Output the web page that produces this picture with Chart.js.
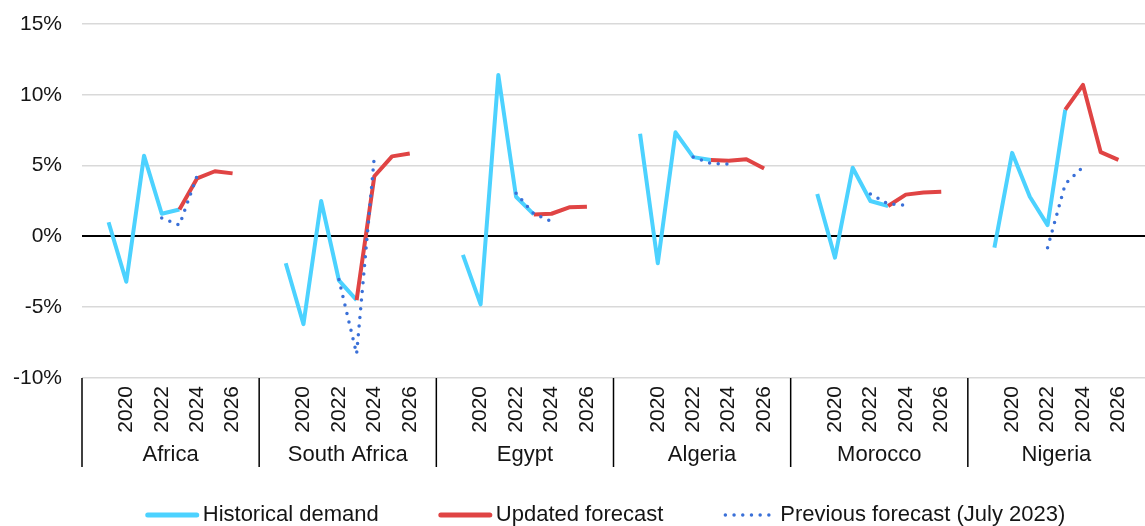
<!DOCTYPE html>
<html>
<head>
<meta charset="utf-8">
<script src="https://cdn.jsdelivr.net/npm/chart.js@4.4.1/dist/chart.umd.min.js"></script>
<style>
  html, body { margin: 0; padding: 0; background: #fff; }
  #wrap { width: 1145px; height: 526px; position: relative; }
</style>
</head>
<body>
<div id="wrap"><canvas id="demandChart"></canvas></div>
<script>
const regions = ['Africa', 'South Africa', 'Egypt', 'Algeria', 'Morocco', 'Nigeria'];
const years = ['2019', '2020', '2021', '2022', '2023', '2024', '2025', '2026'];
const yTicks = [-10, -5, 0, 5, 10, 15];

// demand growth in %, one row per region (same order as regions), columns 2019..2026
const historicalDemand = [
    [1.0, -3.2, 5.7, 1.6, 1.9, null, null, null],
    [-1.9, -6.2, 2.5, -3.1, -4.5, null, null, null],
    [-1.3, -4.8, 11.4, 2.8, 1.55, null, null, null],
    [7.25, -1.9, 7.35, 5.6, 5.4, null, null, null],
    [3.0, -1.5, 4.85, 2.5, 2.15, null, null, null],
    [-0.8, 5.9, 2.8, 0.8, 8.95, null, null, null]
];
const updatedForecast = [
    [null, null, null, null, 1.9, 4.1, 4.6, 4.45],
    [null, null, null, null, -4.5, 4.25, 5.65, 5.85],
    [null, null, null, null, 1.55, 1.6, 2.05, 2.1],
    [null, null, null, null, 5.4, 5.35, 5.45, 4.8],
    [null, null, null, null, 2.15, 2.95, 3.1, 3.15],
    [null, null, null, null, 8.95, 10.7, 5.95, 5.4]
];
const previousForecast = [
    [null, null, null, 1.3, 0.8, 4.3, null, null],
    [null, null, null, -3.05, -8.3, 5.65, null, null],
    [null, null, null, 3.05, 1.6, 1.05, null, null],
    [null, null, null, 5.6, 5.15, 5.1, null, null],
    [null, null, null, 3.0, 2.3, 2.2, null, null],
    [null, null, null, -0.8, 3.7, 4.9, null, null]
];

const FONT = '"Liberation Sans", Arial, sans-serif';
const TEXT = '#151515';
const perRegion = years.length + 2;  // empty slot either side of each region

const labels = regions.flatMap(() => ['', ...years, '']);
const spread = rows => rows.flatMap(row => [null, ...row, null]);

// region separators, region names and the legend underneath the axis
const regionAxisPlugin = {
    id: 'regionAxis',
    afterDraw(chart) {
        const { ctx, chartArea } = chart;
        const x = chart.scales.x;
        const slot = x.getPixelForValue(1) - x.getPixelForValue(0);
        ctx.save();
        ctx.strokeStyle = '#000';
        ctx.lineWidth = 1.5;
        ctx.font = '22px ' + FONT;
        ctx.fillStyle = TEXT;
        ctx.textAlign = 'center';
        ctx.textBaseline = 'middle';
        regions.forEach((name, g) => {
            const left = x.getPixelForValue(g * perRegion) - slot / 2;
            const right = x.getPixelForValue(g * perRegion + perRegion - 1) + slot / 2;
            ctx.beginPath();
            ctx.moveTo(left, chartArea.bottom);
            ctx.lineTo(left, chartArea.bottom + 89);
            ctx.stroke();
            ctx.fillText(name, (left + right) / 2, chartArea.bottom + 77);
        });

        // legend
        const sw = 53, gap = 4, between = 60, ly = 515;
        const items = chart.data.datasets.map(ds => ({ ds, w: ctx.measureText(ds.label).width }));
        const total = items.reduce((s, it) => s + sw + gap + it.w, 0) + between * (items.length - 1);
        let lx = (chartArea.left + chartArea.right) / 2 - 8 - total / 2;
        ctx.textAlign = 'left';
        items.forEach(({ ds, w }) => {
            ctx.save();
            ctx.strokeStyle = ds.borderColor;
            ctx.lineWidth = ds.borderDash ? ds.borderWidth : 5;
            ctx.lineCap = 'round';
            ctx.setLineDash(ds.borderDash || []);
            ctx.beginPath();
            ctx.moveTo(lx + 2, ly);
            ctx.lineTo(lx + sw - 2, ly);
            ctx.stroke();
            ctx.restore();
            ctx.fillText(ds.label, lx + sw + gap, ly);
            lx += sw + gap + w + between;
        });
        ctx.restore();
    }
};

const ctx = document.getElementById('demandChart').getContext('2d');
new Chart(ctx, {
    type: 'line',
    data: {
        labels: labels,
        datasets: [{
            label: 'Historical demand',
            data: spread(historicalDemand),
            borderColor: '#4CD2FF',
            borderWidth: 4,
            order: 2
        }, {
            label: 'Updated forecast',
            data: spread(updatedForecast),
            borderColor: '#E04444',
            borderWidth: 4,
            order: 1
        }, {
            label: 'Previous forecast (July 2023)',
            data: spread(previousForecast),
            borderColor: '#3A70D8',
            borderWidth: 3.5,
            borderDash: [0, 8.7],
            borderCapStyle: 'round',
            order: 0
        }]
    },
    options: {
        responsive: true,
        maintainAspectRatio: false,
        animation: false,
        spanGaps: false,
        layout: { autoPadding: false, padding: { top: 24, right: 0, left: 0, bottom: 0 } },
        elements: {
            point: { radius: 0, hoverRadius: 0 },
            line: { tension: 0, borderJoinStyle: 'round' }
        },
        plugins: {
            legend: { display: false },
            tooltip: { enabled: false }
        },
        scales: {
            x: {
                offset: true,
                grid: { display: false, drawTicks: false },
                border: { display: false },
                afterFit: scale => {
                    scale.height = 148;
                    scale.paddingLeft = 0;
                    scale.paddingRight = 0;
                },
                ticks: {
                    autoSkip: false,
                    maxRotation: 90,
                    minRotation: 90,
                    padding: 8,
                    color: TEXT,
                    font: { family: FONT, size: 21 },
                    callback: function(value) {
                        const l = this.getLabelForValue(value);
                        return l && Number(l) % 2 === 0 ? l : '';
                    }
                }
            },
            y: {
                min: yTicks[0],
                max: yTicks[yTicks.length - 1],
                afterFit: scale => {
                    scale.width = 82;
                    scale.paddingTop = 0;
                    scale.paddingBottom = 0;
                },
                border: { display: false },
                grid: {
                    drawTicks: false,
                    color: c => c.tick.value === 0 ? '#000' : '#d9d9d9',
                    lineWidth: c => c.tick.value === 0 ? 2 : 1.5
                },
                ticks: {
                    stepSize: yTicks[1] - yTicks[0],
                    padding: 20,
                    color: TEXT,
                    font: { family: FONT, size: 21 },
                    callback: v => v + '%'
                }
            }
        }
    },
    plugins: [regionAxisPlugin]
});
</script>
</body>
</html>
